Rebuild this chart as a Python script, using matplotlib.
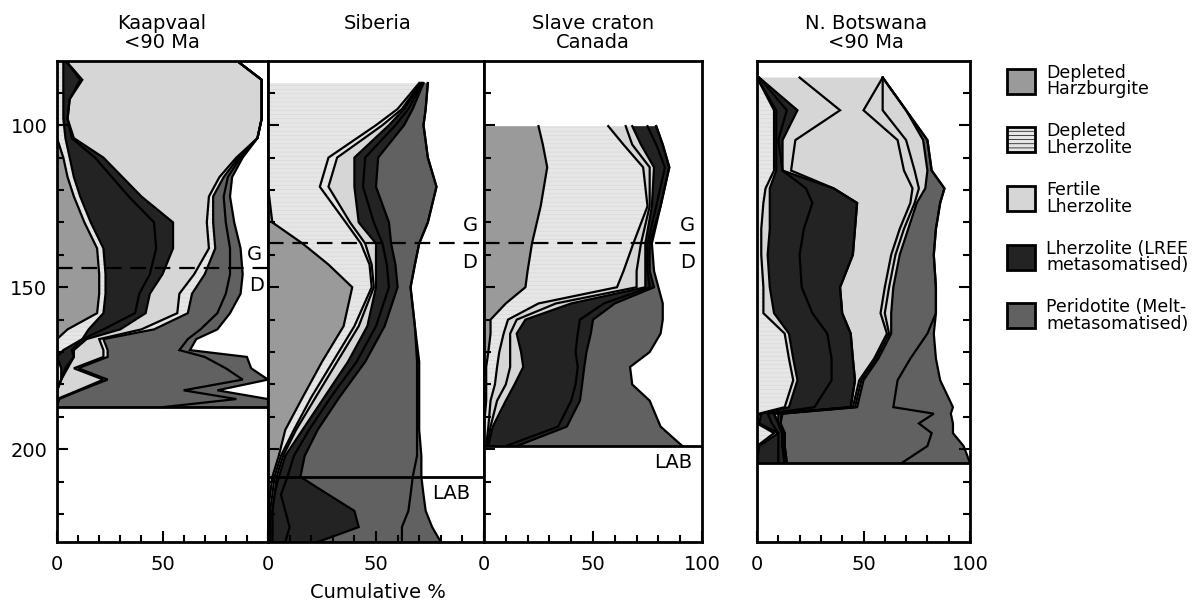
import matplotlib
matplotlib.use('Agg')
import matplotlib.pyplot as plt
from matplotlib.patches import Rectangle
import numpy as np

plt.rcParams['font.family'] = ['DejaVu Sans']
plt.rcParams['hatch.linewidth'] = 0.5

# ---------------- data ----------------
panel_titles = ["Kaapvaal\n<90 Ma", "Siberia", "Slave craton\nCanada", "N. Botswana\n<90 Ma"]
legend_labels = ["Depleted\nHarzburgite", "Depleted\nLherzolite", "Fertile\nLherzolite",
                 "Lherzolite (LREE\nmetasomatised)", "Peridotite (Melt-\nmetasomatised)"]
legend_cats = ["H", "DL", "FL", "LR", "PM"]

# Kaapvaal cumulative boundaries (%), by depth (km)
kv_depth = [80, 86, 92, 98, 104, 110, 116, 122, 130, 138, 146, 152, 158, 163, 166, 169.4, 171.5, 175, 178.5, 181.8, 184.5, 187]
kv_h     = [0, 0, 0, 0, 0, 3, 5, 8, 13, 19, 20, 20, 19, 5, 0, 0, 0, 0, 0, 0, 0, 0]
kv_dl    = [3, 3, 3, 3, 4, 6, 8, 11, 16, 22, 23, 23, 22, 15, 12, 3, 0, 2, 2, 0, 0, 0]
kv_lr_in = [4, 11, 6, 5, 7, 18, 26, 34, 46, 47, 44, 39, 37, 22, 12, 7, 8, 4, 2, 0, 0, 0]
kv_lr    = [4, 12, 6, 5, 8, 22, 31, 40, 55, 55, 50, 44, 42, 30, 14, 8, 8, 5, 2, 0, 0, 0]
kv_fl    = [85, 97, 97, 97, 95, 85, 77, 72, 71, 72, 65, 58, 57, 40, 20, 22, 22, 8, 22, 10, 0, 0]
kv_dl2   = [85, 97, 97, 97, 95, 86, 79, 74, 74, 75, 70, 64, 62, 46, 22, 24, 24, 10, 24, 11, 1, 0]
kv_pm_in = [85, 97, 97, 97, 95, 87, 81, 79, 80, 82, 82, 80, 76, 68, 62, 58, 70, 80, 88, 60, 85, 50]
kv_pm    = [85, 97, 97, 97, 95, 88, 83, 82, 84, 87, 88, 87, 82, 76, 66, 63, 90, 92, 100, 76, 100, 100]

# Siberia
sb_depth = [87, 95, 100, 110, 119, 130, 136.5, 143, 150, 162, 173, 184, 194, 202, 208.5, 214, 219, 224, 228.6]
sb_h     = [0, 0, 0, 0, 0, 2, 16, 28, 39, 35, 25, 16, 8, 5, 2, 1, 0, 0, 0]
sb_dl    = [70, 60, 50, 28, 24, 36, 43, 47, 48, 40, 30, 20, 12, 6, 3, 2, 1, 1, 1]
sb_dl_in = [70.5, 62, 53, 32, 28, 38, 45, 48, 49, 42, 32, 22, 13, 7, 4, 3, 2, 2, 2]
sb_fl    = [71, 63, 56, 40, 40, 42, 50, 50, 50, 46, 37, 26, 16, 8, 5, 3, 2, 2, 2]
sb_lr_in = [71.5, 65, 59, 45, 44, 49, 53, 55, 56, 50, 41, 29, 19, 12, 9, 6, 8, 10, 8]
sb_lr    = [72, 67, 63, 51, 50, 56, 57, 59, 60, 54, 45, 33, 23, 17, 15, 28, 40, 42, 23]
sb_pm_in = [74, 73, 72, 74, 78, 74, 70, 68, 66, 68, 69, 69, 69, 69, 67, 66, 65, 62, 62]
sb_pm    = [74, 73, 72, 74, 78, 74, 70, 68, 66, 68, 70, 70, 70, 71, 71, 72, 73, 76, 80]

# Slave craton
sl_depth = [100.3, 106, 113, 125, 136.5, 145, 150, 155, 160, 164.3, 170, 174.6, 180, 185, 193, 199]
sl_h     = [25, 27, 29, 26, 22, 20, 19, 10, 3, 3, 2, 1, 1, 1, 0, 0]
sl_dl    = [57, 64, 73, 75, 68.5, 64, 61, 25, 11, 9, 7, 6, 5, 3, 2, 1]
sl_dl_in = [65, 68, 76, 76, 72, 70, 70, 33, 15, 12, 12, 12, 10, 6, 3, 1.5]
sl_fl    = [68, 72, 78, 77, 74, 74, 74, 40, 19, 15, 17, 18, 14, 10, 4, 2]
sl_lr_in = [75, 79, 83, 79, 75, 75, 76, 55, 44, 43, 42, 43, 42, 40, 34, 10]
sl_lr    = [79, 82, 85, 81, 76, 76, 78, 60, 50, 49, 47, 46, 45, 44, 38, 15]
sl_pm    = [79, 82, 85, 81, 77, 78, 80, 82, 82, 81, 76, 67, 68, 76, 81, 91]

# N. Botswana
bw_depth = [85.3, 95.4, 104.6, 114, 119.5, 124, 132, 140, 150, 158, 164.3, 172, 178.7, 187, 189, 192, 195, 199, 204.2]
bw_dl    = [0, 8, 8, 8, 4, 3, 2, 2, 3, 3, 13, 15, 17, 13, 1, 0, 8, 0, 0]
bw_w     = [0, 9, 9, 9, 6, 6, 6, 5, 6, 8, 15, 17, 19, 15, 2, 1, 10, 1, 0]
bw_lr_in = [1, 14, 10, 12, 23, 26, 22, 20, 21, 26, 33, 35, 35, 27, 5, 7, 10, 10, 10]
bw_lr    = [1, 19, 12, 12, 36, 47, 46, 45, 39, 40, 44, 45, 46, 44, 8, 10, 12, 12, 13]
bw_fl_in = [20, 39, 18, 16, 36, 47, 46, 45, 39, 40, 44, 45, 46, 44, 8, 10, 12, 12, 13]
bw_fl    = [59, 50, 66, 69, 73, 72, 67, 63, 60, 58, 61, 55, 48, 45, 10, 10, 12, 12, 13]
bw_fl2   = [59, 59, 70, 74, 76, 74, 69, 65, 62, 60, 62, 56, 49, 46, 11, 11, 13, 13, 14]
bw_fl3   = [59, 70, 78, 80, 79, 75, 71, 67, 64, 63, 63, 57, 50, 47, 12, 11, 13, 13, 14]
bw_pm_in = [59, 70, 80, 82, 88, 86, 84, 83, 84, 84, 80, 72, 66, 64, 83, 76, 82, 80, 68]
bw_pm    = [59, 70, 80, 82, 88, 86, 84, 83, 84, 84, 83, 84, 86, 92, 91, 92, 92, 97, 100]

# reference depths
kv_gd, kv_base = 144, 187
sb_gd, sb_lab = 136.5, 208.5
sl_gd, sl_lab = 136.5, 199
bw_base = 204.2

# ---------------- style ----------------
COL = {'H': '#9a9a9a', 'DL': '#e6e6e6', 'FL': '#d6d6d6', 'LR': '#232323', 'PM': '#616161'}
HATCH_EC = '#d9d9d9'
W, H = 1199, 605
YTOP, YBOT = 80.2, 228.6
FS = 14

fig = plt.figure(figsize=(W / 100, H / 100), dpi=100)


def px_axes(x0, x1, y0, y1):
    return fig.add_axes([x0 / W, 1 - y1 / H, (x1 - x0) / W, (y1 - y0) / H])


def draw_panel(ax, depth, bounds, cats):
    depth = np.asarray(depth, float)
    prev = np.zeros(len(depth))
    for b, c in zip(bounds, cats):
        b = np.asarray(b, float)
        if c == 'DL':
            ax.fill_betweenx(depth, prev, b, facecolor=COL[c], edgecolor=HATCH_EC,
                             hatch='----', lw=0)
        else:
            ax.fill_betweenx(depth, prev, b, facecolor=COL[c], lw=0)
        prev = b
    for b in bounds:
        ax.plot(b, depth, color='black', lw=1.6, solid_joinstyle='miter')


def style(ax, left=True, right=False, ylabels=False, xlabels=('0', '50', '100')):
    ax.set_xlim(0, 100)
    ax.set_ylim(YBOT, YTOP)
    ax.set_xticks([0, 50, 100])
    ax.set_xticks(range(0, 101, 10), minor=True)
    ax.set_yticks([100, 150, 200])
    ax.set_yticks(range(90, 229, 10), minor=True)
    ax.set_xticklabels(list(xlabels))
    if not ylabels:
        ax.set_yticklabels([])
    ax.tick_params(which='both', direction='in', top=False, bottom=True,
                   left=left, right=right, width=1.5, labelsize=FS)
    ax.tick_params(which='major', length=8)
    ax.tick_params(which='minor', length=5)
    ax.tick_params(axis='x', pad=9)
    ax.tick_params(axis='y', pad=7)
    for s in ax.spines.values():
        s.set_linewidth(2)
    ax.set_zorder(1)


ax1 = px_axes(57, 268, 61, 542)
ax2 = px_axes(268, 484, 61, 542)
ax3 = px_axes(484, 702, 61, 542)
ax4 = px_axes(757, 970, 61, 542)

draw_panel(ax1, kv_depth, [kv_h, kv_dl, kv_lr_in, kv_lr, kv_fl, kv_dl2, kv_pm_in, kv_pm],
           ['H', 'DL', 'LR', 'LR', 'FL', 'DL', 'PM', 'PM'])
draw_panel(ax2, sb_depth, [sb_h, sb_dl, sb_dl_in, sb_fl, sb_lr_in, sb_lr, sb_pm_in, sb_pm],
           ['H', 'DL', 'DL', 'FL', 'LR', 'LR', 'PM', 'PM'])
draw_panel(ax3, sl_depth, [sl_h, sl_dl, sl_dl_in, sl_fl, sl_lr_in, sl_lr, sl_pm],
           ['H', 'DL', 'FL', 'FL', 'LR', 'LR', 'PM'])
draw_panel(ax4, bw_depth, [bw_dl, bw_w, bw_lr_in, bw_lr, bw_fl_in, bw_fl, bw_fl2, bw_fl3, bw_pm_in, bw_pm],
           ['DL', 'FL', 'LR', 'LR', 'FL', 'FL', 'FL', 'FL', 'PM', 'PM'])

style(ax1, ylabels=True, xlabels=('0', '50', ''))
style(ax2, xlabels=('0', '50', ''))
style(ax3)
style(ax4, left=False, right=True)

# reference lines
ax1.axhline(kv_base, color='black', lw=2)
ax1.axhline(kv_gd, color='black', lw=1.6, ls=(0, (7, 4)))
ax2.axhline(sb_gd, color='black', lw=1.6, ls=(0, (7, 4)))
ax3.axhline(sl_gd, color='black', lw=1.6, ls=(0, (7, 4)))
ax2.axhline(sb_lab, color='black', lw=2)
ax3.axhline(sl_lab, color='black', lw=2)
ax4.axhline(bw_base, color='black', lw=2)

ax1.text(93.5, kv_gd - 4, 'G', ha='center', va='center', fontsize=FS)
ax1.text(94.5, kv_gd + 5.5, 'D', ha='center', va='center', fontsize=FS)
for ax, gd in ((ax2, sb_gd), (ax3, sl_gd)):
    ax.text(93.5, gd - 5.6, 'G', ha='center', va='center', fontsize=FS)
    ax.text(93.5, gd + 5.8, 'D', ha='center', va='center', fontsize=FS)
ax2.text(85, sb_lab + 5, 'LAB', ha='center', va='center', fontsize=FS)
ax3.text(87, sl_lab + 5, 'LAB', ha='center', va='center', fontsize=FS)

# titles
for cx, t in zip([162, 378, 593, 866], panel_titles):
    fig.text(cx / W, 1 - 14 / H, t, ha='center', va='top', fontsize=FS, linespacing=1.0)
fig.text(378 / W, 1 - 593 / H, 'Cumulative %', ha='center', va='center', fontsize=FS)

# legend
lax = fig.add_axes([0, 0, 1, 1])
lax.set_xlim(0, W)
lax.set_ylim(H, 0)
lax.axis('off')
for i, (lab, c) in enumerate(zip(legend_labels, legend_cats)):
    yc = 81 + i * 58.7
    kw = dict(hatch='----') if c == 'DL' else {}
    lax.add_patch(Rectangle((1007, yc - 12.5), 28, 25, facecolor=COL[c], edgecolor='black', lw=2, **kw))
    lax.text(1046, yc, lab, ha='left', va='center', fontsize=12.5, linespacing=0.9)

fig.savefig('out.png', dpi=100)
